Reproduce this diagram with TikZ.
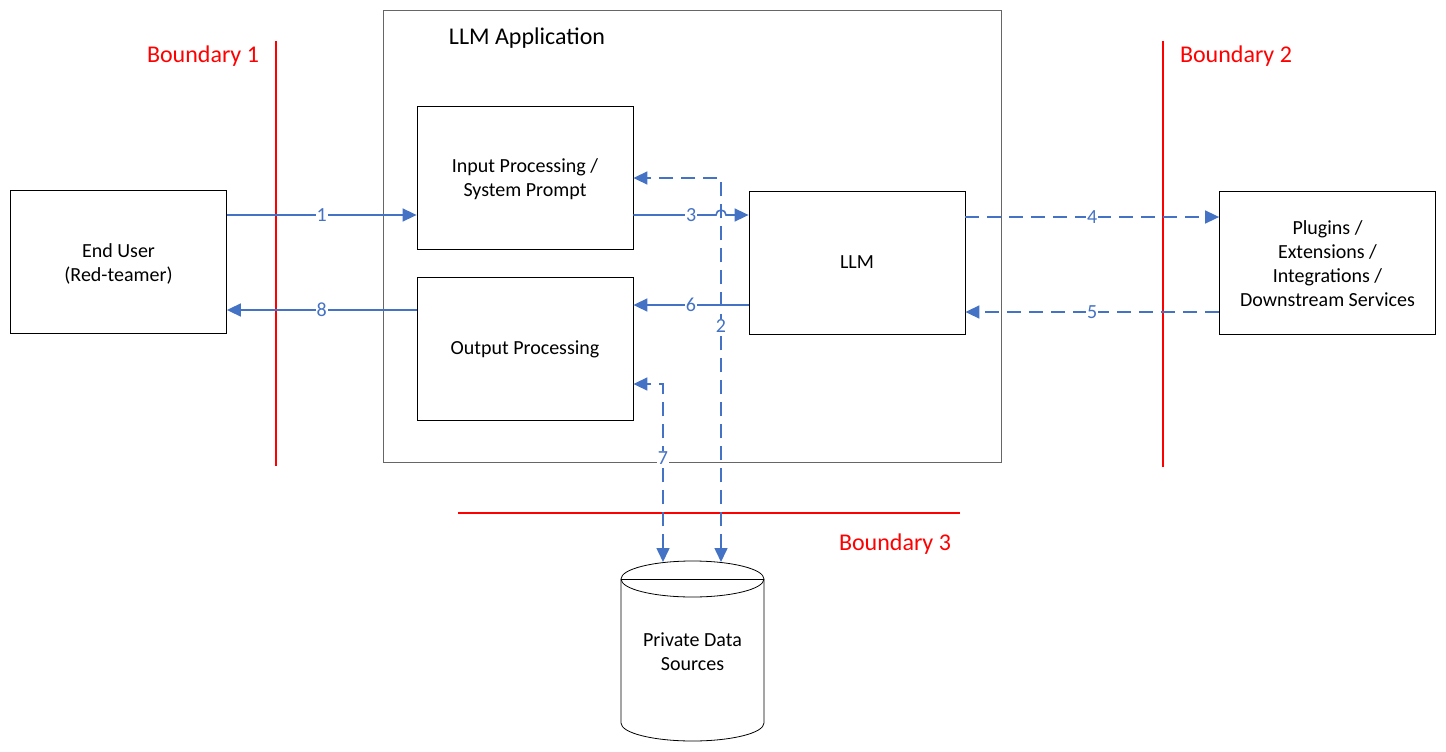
\documentclass[tikz,border=0pt]{standalone}
\usepackage{fontspec}
\setmainfont{Carlito}
\usetikzlibrary{arrows.meta}
\definecolor{lnblue}{HTML}{4472C4}
\definecolor{bred}{HTML}{FF0000}
\begin{document}
\begin{tikzpicture}[x=1pt,y=-1pt,
  box/.style={draw=black, line width=0.8pt, minimum width=216pt, minimum height=143pt, align=center, font=\fontsize{20}{24}\selectfont, inner sep=0pt},
  tip/.tip={Triangle[length=14pt,width=13pt]},
  conn/.style={draw=lnblue, line width=1.6pt, -tip},
  both/.style={draw=lnblue, line width=1.6pt, tip-tip},
  dsh/.style={dash pattern=on 14pt off 8pt},
  lbl/.style={fill=white, text=lnblue, inner sep=1pt, font=\fontsize{20}{24}\selectfont},
  bnd/.style={draw=bred, line width=1.6pt},
  bndlbl/.style={text=bred, font=\fontsize{24}{29}\selectfont},
  plain/.style={align=center, font=\fontsize{20}{24}\selectfont},
]
\useasboundingbox (0,0) rectangle (1446,752);

% application frame
\node[box, draw=black!60, minimum width=618pt, minimum height=452pt] (app) at (692,236) {};
\node[font=\fontsize{24}{29}\selectfont] (apptitle) at (527,38) {LLM Application};

% boxes
\node[box] (user) at (118.5,262) {\strut End User\\(Red-teamer)};
\node[box] (inp) at (525,177.5) {\strut Input Processing /\\System Prompt};
\node[box] (out) at (525,349) {Output Processing};
\node[box] (llm) at (857,262.5) {LLM};
\node[box] (plug) at (1327.5,262.5) {\strut Plugins /\\Extensions /\\Integrations /\\Downstream Services};

% boundaries
\coordinate (b1t) at (276,41); \coordinate (b1b) at (276,466);
\draw[bnd] (b1t) -- (b1b);
\node[bndlbl] (b1) at (203,56) {Boundary 1};
\coordinate (b2t) at (1163,41); \coordinate (b2b) at (1163,467);
\draw[bnd] (b2t) -- (b2b);
\node[bndlbl] (b2) at (1236,56) {Boundary 2};
\coordinate (b3l) at (458,513); \coordinate (b3r) at (960,513);
\draw[bnd] (b3l) -- (b3r);
\node[bndlbl] (b3) at (895,544) {Boundary 3};

% cylinder
\draw[line width=0.8pt] (621,579) -- (621,723) arc[start angle=180, end angle=0, x radius=71.5, y radius=18] -- (764,579);
\draw[line width=0.8pt] (692.5,579) ellipse[x radius=71.5, y radius=18];
\draw[line width=0.8pt] (621,579) -- (764,579);
\node[plain] (db) at (692.5,652) {Private Data\\Sources};

% connectors
\coordinate (y1) at (0,215);
\draw[conn] (user.east |- y1) -- node[lbl]{1} (inp.west |- y1);
\coordinate (y8) at (0,310);
\draw[conn] (out.west |- y8) -- node[lbl]{8} (user.east |- y8);
\coordinate (y6) at (0,305);
\draw[conn] (llm.west |- y6) -- node[lbl]{6} (out.east |- y6);
\coordinate (y4) at (0,217);
\draw[conn, dsh] (llm.east |- y4) -- node[lbl]{4} (plug.west |- y4);
\coordinate (y5) at (0,312);
\draw[conn, dsh] (plug.west |- y5) -- node[lbl]{5} (llm.east |- y5);

\coordinate (c2) at (721,562); \coordinate (y2) at (0,178);
\draw[both, dsh] (c2) |- node[lbl, pos=0.307]{2} (inp.east |- y2);
\coordinate (c7) at (663,562); \coordinate (y7) at (0,384);
\draw[both, dsh] (c7) |- node[lbl, pos=0.292]{7} (out.east |- y7);

\coordinate (hop) at (721,215);
\draw[conn] (inp.east |- y1) -- node[lbl, pos=0.7]{3} ([xshift=-5pt]hop) arc[start angle=180, end angle=360, radius=5] -- (llm.west |- y1);
\end{tikzpicture}
\end{document}
